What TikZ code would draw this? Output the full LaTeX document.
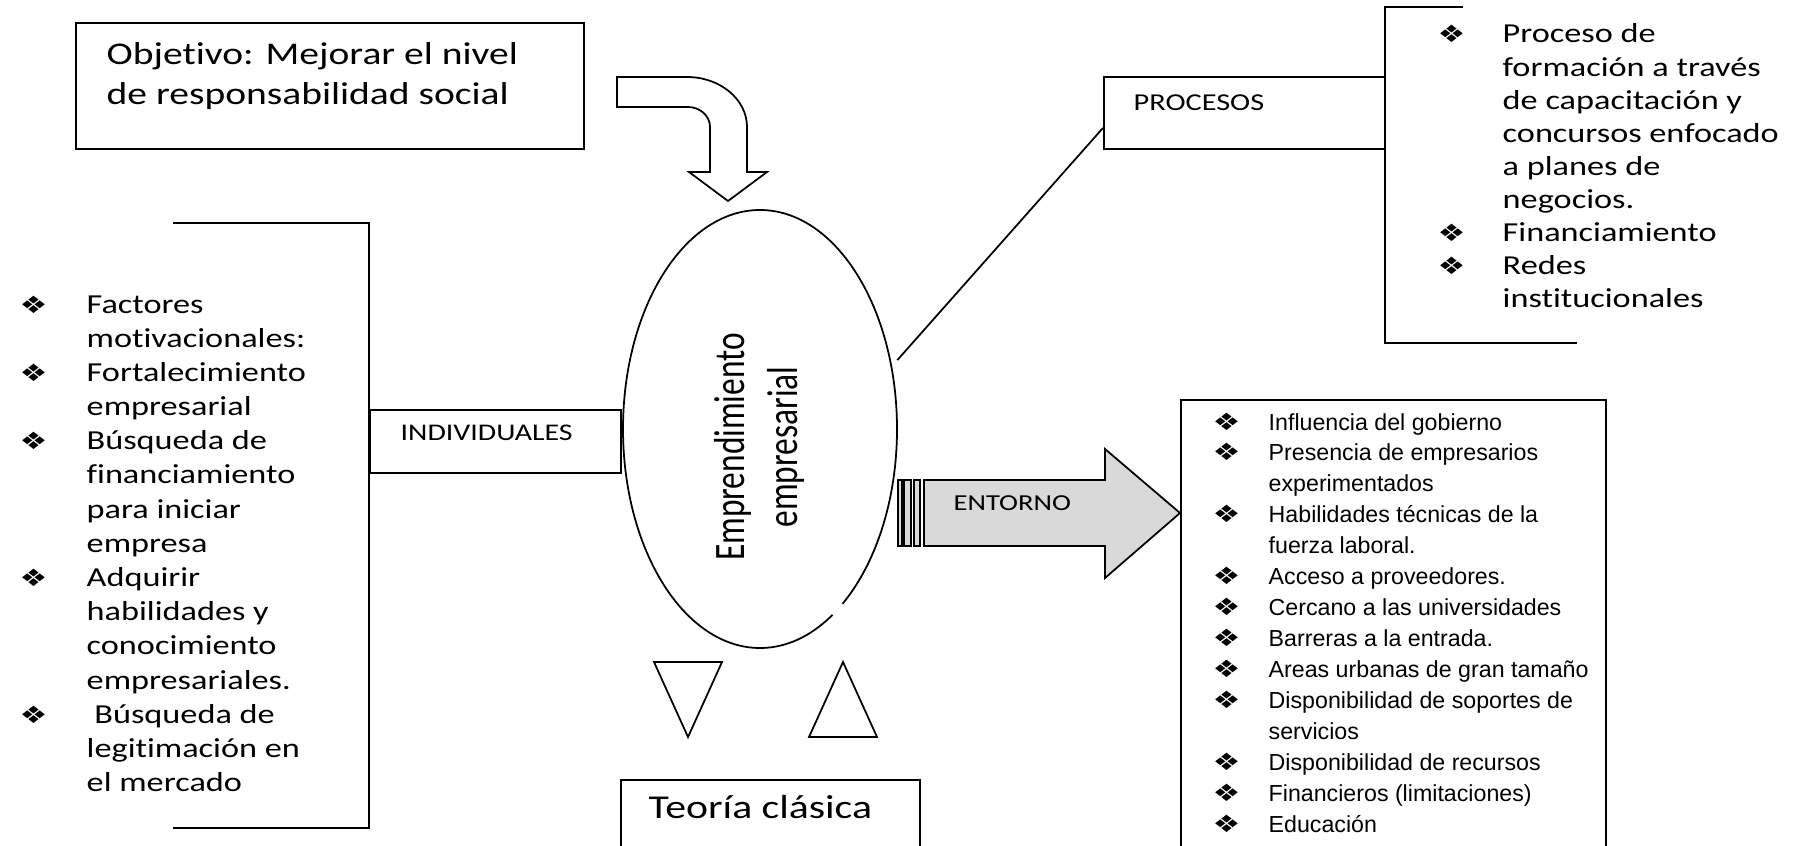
\documentclass[tikz,border=0pt]{standalone}
\usepackage{fontspec}
\setmainfont{Carlito}[FakeStretch=1.25,Ligatures=NoCommon]
\newfontfamily\condfont{Carlito}[FakeStretch=0.77,Ligatures=NoCommon]
\newfontfamily\arialfont{Liberation Sans}
\newfontfamily\symfont{DejaVu Sans}[FakeStretch=1.3]
\usetikzlibrary{shapes.geometric}
\newcommand{\bul}{{\fontsize{6.8}{8}\symfont ❖}}

\begin{document}
\begin{tikzpicture}[caja/.style={rectangle,draw,line width=0.6pt,inner sep=0pt},texto/.style={anchor=base west,inner sep=0pt},ovalo/.style={ellipse,draw,line width=0.5pt,inner sep=0pt}]
\useasboundingbox (0,0) rectangle (17.93,-8.46);
\node (obj) [caja,minimum width=5.08cm,minimum height=1.26cm] at (3.30,-0.86) {};
\node (objtxt) [texto,font=\fontsize{9}{11.1}\selectfont] at (1.06,-0.65) {\begin{tabular}[t]{@{}l@{}}Objetivo: Mejorar el nivel\\de responsabilidad social\end{tabular}};
\node (empr) [ovalo,minimum width=2.74cm,minimum height=4.38cm,font=\condfont\fontsize{12.35}{15.1}\selectfont] at (7.60,-4.29) {\rotatebox{90}{\begin{tabular}{@{}c@{}}Emprendimiento\\empresarial\end{tabular}\hspace{0.36cm}}};
\node (ind) [caja,minimum width=2.51cm,minimum height=0.63cm] at (4.955,-4.415) {};
\node (indtxt) [texto,font=\fontsize{6.8}{8}\selectfont] at (4.00,-4.40) {INDIVIDUALES};
\node (proc) [caja,minimum width=2.81cm,minimum height=0.72cm] at (12.445,-1.13) {};
\node (proctxt) [texto,font=\fontsize{6.9}{8}\selectfont] at (11.33,-1.10) {PROCESOS};
\node (teoria) [caja,minimum width=2.99cm,minimum height=1.2cm,anchor=north west] at (6.20,-7.79) {};
\node (teotxt) [texto,font=\fontsize{9.5}{11}\selectfont] at (6.48,-8.18) {Teoría clásica};
\node (entbox) [caja,minimum width=4.25cm,minimum height=4.8cm,anchor=north west] at (11.80,-3.99) {};
% listas
\node (indlist) [texto,font=\fontsize{7.8}{9.73}\selectfont] at (0.19,-3.13) {\begin{tabular}[t]{@{}p{0.67cm}@{}l@{}}
\bul & Factores\\ & motivacionales:\\ \bul & Fortalecimiento\\ & empresarial\\ \bul & Búsqueda de\\ & financiamiento\\ & para iniciar\\ & empresa\\
\bul & Adquirir\\ & habilidades y\\ & conocimiento\\ & empresariales.\\ \bul & \ Búsqueda de\\ & legitimación en\\ & el mercado
\end{tabular}};
\node (proclist) [texto,font=\fontsize{7.8}{9.4}\selectfont] at (14.37,-0.43) {\begin{tabular}[t]{@{}p{0.65cm}@{}l@{}}
\bul & Proceso de\\ & formación a través\\ & de capacitación y\\ & concursos enfocado\\ & a planes de\\ & negocios.\\
\bul & Financiamiento\\ \bul & Redes\\ & institucionales
\end{tabular}};
\node (entlist) [texto,font=\arialfont\fontsize{6.6}{8.8}\selectfont] at (12.12,-4.30) {\begin{tabular}[t]{@{}p{0.56cm}@{}l@{}}
\bul & Influencia del gobierno\\ \bul & Presencia de empresarios\\ & experimentados\\ \bul & Habilidades técnicas de la\\ & fuerza laboral.\\
\bul & Acceso a proveedores.\\ \bul & Cercano a las universidades\\ \bul & Barreras a la entrada.\\ \bul & Areas urbanas de gran tamaño\\
\bul & Disponibilidad de soportes de\\ & servicios\\ \bul & Disponibilidad de recursos\\ \bul & Financieros (limitaciones)\\ \bul & Educación
\end{tabular}};
  \begin{scope}[line width=0.6pt]
    \draw (1.73,-2.23) -- (3.69,-2.23) -- (3.69,-8.28) -- (1.73,-8.28);
    \draw (14.63,-0.07) -- (13.85,-0.07) -- (13.85,-3.43) -- (15.77,-3.43);
  \end{scope}
  \begin{scope}[line width=0.5pt]
    \draw ([yshift=-0.15cm]proc.west) -- ([shift={(0.06,0.02)}]empr.27);
    % corte en el borde del ovalo
    \draw [white, line width=1.6pt] (empr.center) ++(-58:1.37cm and 2.19cm) arc[start angle=-58, end angle=-53, x radius=1.37cm, y radius=2.19cm];
    % flecha curva
    \draw (6.17,-0.77) -- (6.87,-0.77) arc[start angle=90,end angle=0,x radius=0.60,y radius=0.50] -- (7.47,-1.72) -- (7.67,-1.72) -- (7.28,-2.01) -- (6.89,-1.72) -- (7.10,-1.72) -- (7.10,-1.27) arc[start angle=0,end angle=90,x radius=0.22,y radius=0.20] -- (6.17,-1.07) -- cycle;
    % flecha entorno
    \draw [fill=gray!30] (9.24,-4.80) -- (11.05,-4.80) -- (11.05,-4.49) -- (11.80,-5.13) -- (11.05,-5.78) -- (11.05,-5.46) -- (9.24,-5.46) -- cycle;
    \draw [fill=gray!30] (8.98,-4.80) rectangle (9.02,-5.46) (9.04,-4.80) rectangle (9.11,-5.46) (9.14,-4.80) rectangle (9.20,-5.46);
    \draw (6.54,-6.62) -- (7.22,-6.62) -- (6.88,-7.37) -- cycle;
    \draw (8.09,-7.37) -- (8.77,-7.37) -- (8.43,-6.62) -- cycle;
  \end{scope}
\node (enttxt) [texto,font=\fontsize{6.5}{8}\selectfont] at (9.53,-5.10) {ENTORNO};
\end{tikzpicture}
\end{document}
